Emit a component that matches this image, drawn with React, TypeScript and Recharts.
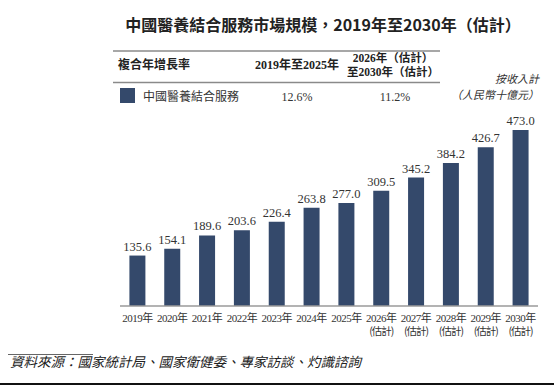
import React from "react";
import { BarChart, Bar, XAxis, YAxis, LabelList } from "recharts";

// Market size, RMB billion
const years = ["2019", "2020", "2021", "2022", "2023", "2024", "2025", "2026", "2027", "2028", "2029", "2030"];
const estimated = [false, false, false, false, false, false, false, true, true, true, true, true];
const marketSize = [135.6, 154.1, 189.6, 203.6, 226.4, 263.8, 277.0, 309.5, 345.2, 384.2, 426.7, 473.0];

const title = "中國醫養結合服務市場規模，2019年至2030年（估計）";
const cagrHeader = "複合年增長率";
const periodHeaders = ["2019年至2025年", ["2026年（估計）", "至2030年（估計）"]];
const seriesName = "中國醫養結合服務";
const cagrValues = ["12.6%", "11.2%"];
const unitLines = ["按收入計", "（人民幣十億元）"];
const sourceNote = "資料來源：國家統計局、國家衛健委、專家訪談、灼識諮詢";

const BAR_COLOR = "#34496b";
const SERIF = "'Liberation Serif', 'Noto Sans CJK TC', serif";
const SANS_CJK = "'Noto Sans CJK TC', 'Liberation Serif', sans-serif";

const data = years.map((y, i) => ({ year: y, est: estimated[i], value: marketSize[i] }));

const YearTick = (props: any) => {
  const { x, y, payload, index } = props;
  const est = estimated[index];
  return (
    <g>
      <text x={x} y={y + 10} textAnchor="middle" fontFamily={SERIF} fontSize={11} fill="#333" letterSpacing={-0.5}>
        {payload.value}年
      </text>
      {est && (
        <text x={x} y={y + 23} textAnchor="middle" fontFamily={SANS_CJK} fontSize={10.5} fill="#333" letterSpacing={-1}>
          (估計)
        </text>
      )}
    </g>
  );
};

const ValueLabel = (props: any) => {
  const { x, y, width, value } = props;
  return (
    <text x={x + width / 2} y={y - 5} textAnchor="middle" fontFamily={SERIF} fontSize={12.5} fill="#333">
      {Number(value).toFixed(1)}
    </text>
  );
};

export default function App() {
  return (
    <div style={{ position: "absolute", left: 0, top: 0, width: 554, height: 387, background: "#fff" }}>
      <BarChart
        width={554}
        height={387}
        data={data}
        margin={{ top: 120, right: 16, bottom: 0, left: 120 }}
        barCategoryGap="27%"
      >
        <YAxis hide domain={[0, 500]} />
        <XAxis
          dataKey="year"
          height={81}
          tickLine={false}
          axisLine={{ stroke: "#9a9a9a", strokeWidth: 1.5 }}
          tick={<YearTick />}
          interval={0}
          tickMargin={0}
        />
        <Bar dataKey="value" fill={BAR_COLOR} isAnimationActive={false}>
          <LabelList dataKey="value" content={<ValueLabel />} />
        </Bar>
      </BarChart>
      <svg width={554} height={387} style={{ position: "absolute", left: 0, top: 0, pointerEvents: "none" }}>
        <text x={323} y={31} textAnchor="middle" fontFamily={SANS_CJK} fontWeight="bold" fontSize={16} fill="#222">
          {title}
        </text>
        {/* CAGR table */}
        <line x1={113} x2={440} y1={51} y2={51} stroke="#8a8a8a" strokeWidth={1.5} />
        <text x={118} y={69} fontFamily={SANS_CJK} fontWeight="bold" fontSize={12} fill="#222">
          {cagrHeader}
        </text>
        <text x={297} y={69} textAnchor="middle" fontFamily={SERIF} fontWeight="bold" fontSize={12} fill="#222">
          {periodHeaders[0] as string}
        </text>
        <text x={393} y={62} textAnchor="middle" fontFamily={SERIF} fontWeight="bold" fontSize={11.5} fill="#222">
          {(periodHeaders[1] as string[])[0]}
        </text>
        <text x={393} y={76} textAnchor="middle" fontFamily={SERIF} fontWeight="bold" fontSize={11.5} fill="#222">
          {(periodHeaders[1] as string[])[1]}
        </text>
        <line x1={113} x2={440} y1={82.5} y2={82.5} stroke="#8a8a8a" strokeWidth={1.5} />
        <rect x={120} y={88} width={15} height={15} fill={BAR_COLOR} />
        <text x={143} y={101} fontFamily={SANS_CJK} fontSize={12} fill="#333">
          {seriesName}
        </text>
        <text x={297} y={101} textAnchor="middle" fontFamily={SERIF} fontSize={12} fill="#333">
          {cagrValues[0]}
        </text>
        <text x={395} y={101} textAnchor="middle" fontFamily={SERIF} fontSize={12} fill="#333">
          {cagrValues[1]}
        </text>
        <text x={539} y={83} textAnchor="end" fontFamily={SANS_CJK} fontStyle="italic" fontSize={11} fill="#333">
          {unitLines[0]}
        </text>
        <text x={539} y={99} textAnchor="end" fontFamily={SANS_CJK} fontStyle="italic" fontSize={11} fill="#333">
          {unitLines[1]}
        </text>
        {/* source note */}
        <line x1={8} x2={93} y1={354.5} y2={354.5} stroke="#666" strokeWidth={1} />
        <text x={10} y={367} fontFamily={SANS_CJK} fontStyle="italic" fontSize={13.5} fill="#222">
          {sourceNote}
        </text>
        <line x1={0} x2={554} y1={384} y2={384} stroke="#111" strokeWidth={2} />
      </svg>
    </div>
  );
}
